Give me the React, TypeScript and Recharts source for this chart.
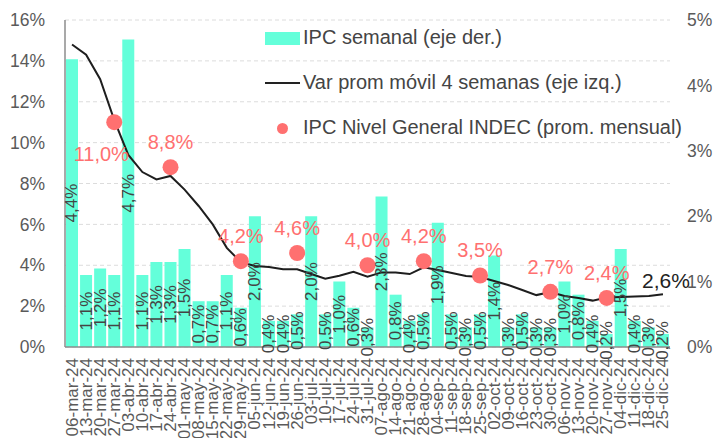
import React from 'react';
import { ComposedChart, Bar, Line, XAxis, YAxis, CartesianGrid, LabelList } from 'recharts';

const weeks = [
  '06-mar-24', '13-mar-24', '20-mar-24', '27-mar-24',
  '03-abr-24', '10-abr-24', '17-abr-24', '24-abr-24',
  '01-may-24', '08-may-24', '15-may-24', '22-may-24', '29-may-24',
  '05-jun-24', '12-jun-24', '19-jun-24', '26-jun-24',
  '03-jul-24', '10-jul-24', '17-jul-24', '24-jul-24', '31-jul-24',
  '07-ago-24', '14-ago-24', '21-ago-24', '28-ago-24',
  '04-sep-24', '11-sep-24', '18-sep-24', '25-sep-24',
  '02-oct-24', '09-oct-24', '16-oct-24', '23-oct-24', '30-oct-24',
  '06-nov-24', '13-nov-24', '20-nov-24', '27-nov-24',
  '04-dic-24', '11-dic-24', '18-dic-24', '25-dic-24',
];

// IPC semanal (eje der.)
const weeklyCpi = [
  4.4, 1.1, 1.2, 1.1,
  4.7, 1.1, 1.3, 1.3,
  1.5, 0.7, 0.7, 1.1, 0.6,
  2.0, 0.4, 0.4, 0.5,
  2.0, 0.5, 1.0, 0.6, 0.3,
  2.3, 0.8, 0.4, 0.5,
  1.9, 0.5, 0.3, 0.5,
  1.4, 0.3, 0.5, 0.3, 0.3,
  1.0, 0.8, 0.4, 0.2,
  1.5, 0.4, 0.3, 0.2,
];

// Var prom móvil 4 semanas (eje izq.)
const movingAvg4w = [
  14.8, 14.3, 13.1, 11.1,
  9.4, 8.56, 8.2, 8.37,
  7.7, 6.9, 6.0, 4.85, 4.15,
  3.96, 3.91, 3.8, 3.8,
  3.57, 3.34, 3.49, 3.68, 3.44,
  3.65, 3.65, 3.57, 3.9,
  3.77, 3.62, 3.47, 3.42,
  3.23, 3.03, 2.79, 2.54, 2.69,
  2.5, 2.4, 2.27, 2.42,
  2.45, 2.47, 2.5, 2.58,
];

// IPC Nivel General INDEC (prom. mensual)
const monthlyCpi: (number | null)[] = [
  null, null, null, 11.0,
  null, null, null, 8.8,
  null, null, null, null, 4.2,
  null, null, null, 4.6,
  null, null, null, null, 4.0,
  null, null, null, 4.2,
  null, null, null, 3.5,
  null, null, null, null, 2.7,
  null, null, null, 2.4,
  null, null, null, null,
];

const leftTicks = [0, 2, 4, 6, 8, 10, 12, 14, 16];
const rightTicks = [0, 1, 2, 3, 4, 5];
const lastAvgLabel = '2,6%';
const labelBelowWeeks = ['27-mar-24'];

const data = weeks.map((w, i) => ({
  week: w,
  weekly: weeklyCpi[i],
  avg: movingAvg4w[i],
  monthly: monthlyCpi[i],
}));

const FONT = '"Liberation Sans", Arial, Helvetica, sans-serif';
const BAR_COLOR = '#64FFDA';
const DOT_COLOR = '#FF7070';
const AXIS_TEXT = '#5a5a5a';
const TEXT = '#444444';

const fmt = (v: number) => v.toFixed(1).replace('.', ',') + '%';

const BarLabel = (props: any) => {
  const { x, y, width, height, value } = props;
  if (value == null) return null;
  const cx = Number(x) + Number(width) / 2;
  const cy = Number(y) + Number(height) / 2;
  return (
    <text
      x={cx}
      y={cy}
      transform={`rotate(-90 ${cx} ${cy})`}
      textAnchor="middle"
      dominantBaseline="central"
      fontSize={17}
      fontFamily={FONT}
      fill={TEXT}
    >
      {fmt(value)}
    </text>
  );
};

const DotLabel = (props: any) => {
  const { x, y, value, index } = props;
  if (value == null) return null;
  const below = labelBelowWeeks.includes(weeks[index]);
  const tx = Number(x) + (below ? -13 : 0);
  const ty = Number(y) + (below ? 32 : -25);
  return (
    <text
      x={tx}
      y={ty}
      textAnchor="middle"
      dominantBaseline="central"
      fontSize={20}
      fontFamily={FONT}
      fill={DOT_COLOR}
    >
      {fmt(value)}
    </text>
  );
};

const EndLabel = (props: any) => {
  const { x, y, index } = props;
  if (index !== weeks.length - 1) return null;
  return (
    <text
      x={Number(x) - 21}
      y={Number(y) - 14}
      textAnchor="start"
      dominantBaseline="central"
      fontSize={21}
      fontFamily={FONT}
      fill="#222"
    >
      {lastAvgLabel}
    </text>
  );
};

const XTick = (props: any) => {
  const { x, y, payload } = props;
  const ty = Number(y) + 11;
  return (
    <text
      x={x}
      y={ty}
      transform={`rotate(-90 ${x} ${ty})`}
      textAnchor="end"
      dominantBaseline="central"
      fontSize={17}
      fontFamily={FONT}
      fill={AXIS_TEXT}
    >
      {payload.value}
    </text>
  );
};

const legendItems = [
  { label: 'IPC semanal (eje der.)', kind: 'bar' },
  { label: 'Var prom móvil 4 semanas (eje izq.)', kind: 'line' },
  { label: 'IPC Nivel General INDEC (prom. mensual)', kind: 'dot' },
];

const Legend = () => (
  <div style={{ position: 'absolute', left: 265, top: 23, fontFamily: FONT, fontSize: 20, color: TEXT }}>
    {legendItems.map((it) => (
      <div key={it.label} style={{ height: 45, display: 'flex', alignItems: 'flex-start' }}>
        <div style={{ width: 38, height: 28, position: 'relative' }}>
          {it.kind === 'bar' && (
            <div style={{ position: 'absolute', left: 0, top: 9, width: 35, height: 13, background: BAR_COLOR }} />
          )}
          {it.kind === 'line' && (
            <div style={{ position: 'absolute', left: 0, top: 14, width: 35, height: 2, background: '#222' }} />
          )}
          {it.kind === 'dot' && (
            <div style={{ position: 'absolute', left: 12, top: 10, width: 11, height: 11, borderRadius: 6, background: DOT_COLOR }} />
          )}
        </div>
        <div style={{ lineHeight: '28px', whiteSpace: 'nowrap' }}>{it.label}</div>
      </div>
    ))}
  </div>
);

export default function App() {
  return (
    <div style={{ position: 'absolute', left: 0, top: 0, width: 718, height: 438, overflow: 'hidden', background: '#fff' }}>
      <ComposedChart
        width={718}
        height={438}
        data={data}
        margin={{ top: 20, right: 0, bottom: 0, left: 0 }}
        barCategoryGap={1}
      >
        <CartesianGrid yAxisId="left" vertical={false} stroke="#dcdcdc" strokeDasharray="4 3" />
        <XAxis
          dataKey="week"
          interval={0}
          height={91}
          tickLine={false}
          tickSize={0}
          tickMargin={0}
          axisLine={{ stroke: '#8c8c8c', strokeWidth: 1.5 }}
          tick={<XTick />}
        />
        <YAxis
          yAxisId="left"
          width={65}
          domain={[0, 16]}
          ticks={leftTicks}
          tickFormatter={(v: number) => `${v}%`}
          tickLine={false}
          tickSize={0}
          tickMargin={20}
          axisLine={{ stroke: '#8c8c8c', strokeWidth: 1.5 }}
          tick={{ fontSize: 17.5, fill: AXIS_TEXT, fontFamily: FONT }}
        />
        <YAxis
          yAxisId="right"
          orientation="right"
          width={48}
          domain={[0, 5]}
          ticks={rightTicks}
          tickFormatter={(v: number) => `${v}%`}
          tickLine={false}
          tickSize={0}
          tickMargin={17}
          axisLine={false}
          tick={{ fontSize: 17.5, fill: AXIS_TEXT, fontFamily: FONT }}
        />
        <Bar yAxisId="right" dataKey="weekly" fill={BAR_COLOR} isAnimationActive={false}>
          <LabelList dataKey="weekly" content={<BarLabel />} />
        </Bar>
        <Line
          yAxisId="left"
          dataKey="avg"
          type="linear"
          stroke="#1e1e1e"
          strokeWidth={2}
          dot={false}
          activeDot={false}
          isAnimationActive={false}
        >
          <LabelList dataKey="avg" content={<EndLabel />} />
        </Line>
        <Line
          yAxisId="left"
          dataKey="monthly"
          stroke="none"
          dot={{ r: 8, fill: DOT_COLOR, stroke: 'none' }}
          activeDot={false}
          isAnimationActive={false}
        >
          <LabelList dataKey="monthly" content={<DotLabel />} />
        </Line>
      </ComposedChart>
      <Legend />
    </div>
  );
}
